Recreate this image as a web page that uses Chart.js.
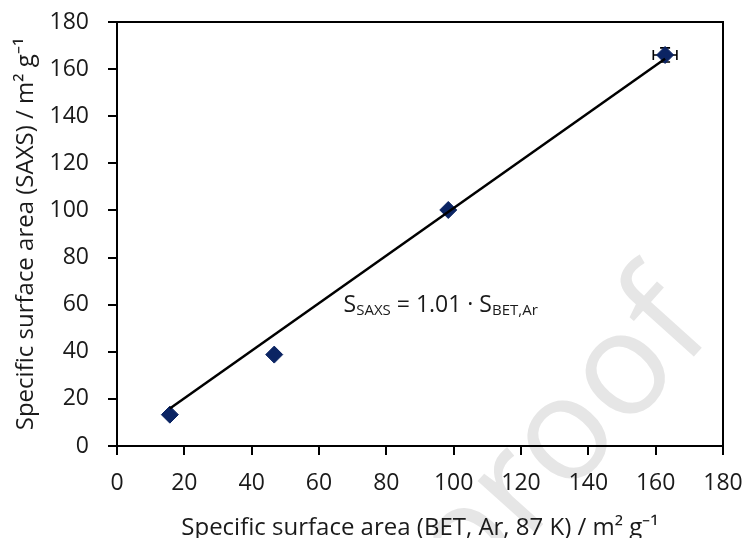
<!DOCTYPE html>
<html><head><meta charset="utf-8">
<script src="https://cdn.jsdelivr.net/npm/chart.js@4/dist/chart.umd.min.js"></script>
<style>html,body{margin:0;padding:0;background:#fff}#wrap{width:745px;height:538px}</style>
</head><body><div id="wrap"><canvas id="c" width="745" height="538" style="width:745px;height:538px"></canvas></div>
<script>
// Data
const betArea  = [15.7, 46.7, 98.4, 162.8];   // x: BET (Ar, 87 K) / m2 g-1
const saxsArea = [13.3, 38.8, 100.2, 166.0];  // y: SAXS / m2 g-1
const betErr   = [0, 0, 0, 3.5];
const saxsErr  = [0, 0, 0, 3.0];
const fitX = [15.7, 162.8];
const fitY = [15.9, 164.4];
const axisMin = 0, axisMax = 180, axisStep = 20;
const xTitle = 'Specific surface area (BET, Ar, 87 K) / m\u00B2 g\u207B\u00B9';
const yTitle = 'Specific surface area (SAXS) / m\u00B2 g\u207B\u00B9';
const eqParts = [['S',''],['SAXS','sub'],[' = 1.01 \u00B7 S',''],['BET,Ar','sub']];
const eqAnchor = {x: 67.3, y: 57};
const watermark = 'Journal Pre-proof';

const FONT = '"Open Sans"';
const TXT = '#1a1a1a';
const NAVY = '#0b2463';

const bgPlugin = {
  id: 'bg',
  beforeDraw(chart) {
    const ctx = chart.ctx;
    ctx.save();
    ctx.fillStyle = '#fff';
    ctx.fillRect(0, 0, chart.width, chart.height);
    ctx.translate(716, 332);
    ctx.rotate(-48 * Math.PI / 180);
    ctx.font = '145px ' + FONT;
    ctx.fillStyle = '#e6e6e6';
    ctx.textAlign = 'right';
    ctx.textBaseline = 'alphabetic';
    ctx.fillText(watermark, 0, 0);
    ctx.restore();
  }
};

const framePlugin = {
  id: 'frame',
  beforeDatasetsDraw(chart) {
    const {ctx, chartArea: a, scales} = chart;
    ctx.save();
    ctx.strokeStyle = '#000';
    ctx.lineWidth = 2;
    ctx.beginPath();
    ctx.moveTo(a.left, a.top); ctx.lineTo(a.right, a.top); ctx.lineTo(a.right, a.bottom);
    ctx.stroke();
    // error bars
    ctx.lineWidth = 1.6;
    const cap = 5;
    for (let i = 0; i < betArea.length; i++) {
      const px = scales.x.getPixelForValue(betArea[i]);
      const py = scales.y.getPixelForValue(saxsArea[i]);
      if (betErr[i] > 0) {
        const x1 = scales.x.getPixelForValue(betArea[i] - betErr[i]);
        const x2 = scales.x.getPixelForValue(betArea[i] + betErr[i]);
        ctx.beginPath();
        ctx.moveTo(x1, py); ctx.lineTo(x2, py);
        ctx.moveTo(x1, py - cap); ctx.lineTo(x1, py + cap);
        ctx.moveTo(x2, py - cap); ctx.lineTo(x2, py + cap);
        ctx.stroke();
      }
      if (saxsErr[i] > 0) {
        const y1 = scales.y.getPixelForValue(saxsArea[i] - saxsErr[i]);
        const y2 = scales.y.getPixelForValue(saxsArea[i] + saxsErr[i]);
        ctx.beginPath();
        ctx.moveTo(px, y1); ctx.lineTo(px, y2);
        ctx.moveTo(px - cap, y1); ctx.lineTo(px + cap, y1);
        ctx.moveTo(px - cap, y2); ctx.lineTo(px + cap, y2);
        ctx.stroke();
      }
    }
    ctx.restore();
  },
  afterDatasetsDraw(chart) {
    const {ctx, scales} = chart;
    let x = scales.x.getPixelForValue(eqAnchor.x);
    const y = scales.y.getPixelForValue(eqAnchor.y);
    ctx.save();
    ctx.fillStyle = TXT;
    ctx.textBaseline = 'alphabetic';
    ctx.textAlign = 'left';
    for (const [t, k] of eqParts) {
      if (k === 'sub') { ctx.font = '15px ' + FONT; ctx.fillText(t, x, y + 3); }
      else { ctx.font = '23px ' + FONT; ctx.fillText(t, x, y); }
      x += ctx.measureText(t).width;
    }
    ctx.restore();
  }
};

function clearPad(s) { s.paddingLeft = 0; s.paddingRight = 0; s.paddingTop = 0; s.paddingBottom = 0; }

new Chart(document.getElementById('c'), {
  data: {
    datasets: [
      { type: 'line', data: fitX.map((v, i) => ({x: v, y: fitY[i]})), borderColor: '#000',
        borderWidth: 2.5, pointRadius: 0, fill: false, order: 0 },
      { type: 'scatter', data: betArea.map((v, i) => ({x: v, y: saxsArea[i]})),
        pointStyle: 'rectRot', pointRadius: 8.5, backgroundColor: NAVY, borderColor: NAVY,
        borderWidth: 1, order: 1 }
    ]
  },
  options: {
    responsive: false, animation: false,
    layout: { padding: { left: 0, right: 22, top: 22, bottom: 0 } },
    plugins: { legend: { display: false }, tooltip: { enabled: false } },
    scales: {
      x: {
        type: 'linear', min: axisMin, max: axisMax,
        ticks: { stepSize: axisStep, color: TXT, font: { family: FONT, size: 23 }, padding: 15, maxRotation: 0 },
        grid: { drawOnChartArea: false, drawTicks: true, tickLength: 9, color: '#000', lineWidth: 2 },
        border: { display: true, color: '#000', width: 2 },
        title: { display: true, text: xTitle, color: TXT, font: { family: FONT, size: 24, lineHeight: 0.85 }, padding: { top: 0, bottom: 0 } },
        afterFit(s) { s.height = 92; clearPad(s); }
      },
      y: {
        type: 'linear', min: axisMin, max: axisMax,
        ticks: { stepSize: axisStep, color: TXT, font: { family: FONT, size: 23 }, padding: 19 },
        grid: { drawOnChartArea: false, drawTicks: true, tickLength: 9, color: '#000', lineWidth: 2 },
        border: { display: true, color: '#000', width: 2 },
        title: { display: true, text: yTitle, color: TXT, font: { family: FONT, size: 24, lineHeight: 0.85 }, padding: { top: 16, bottom: 0 } },
        afterFit(s) { s.width = 117; clearPad(s); }
      }
    }
  },
  plugins: [bgPlugin, framePlugin]
});
</script></body></html>
